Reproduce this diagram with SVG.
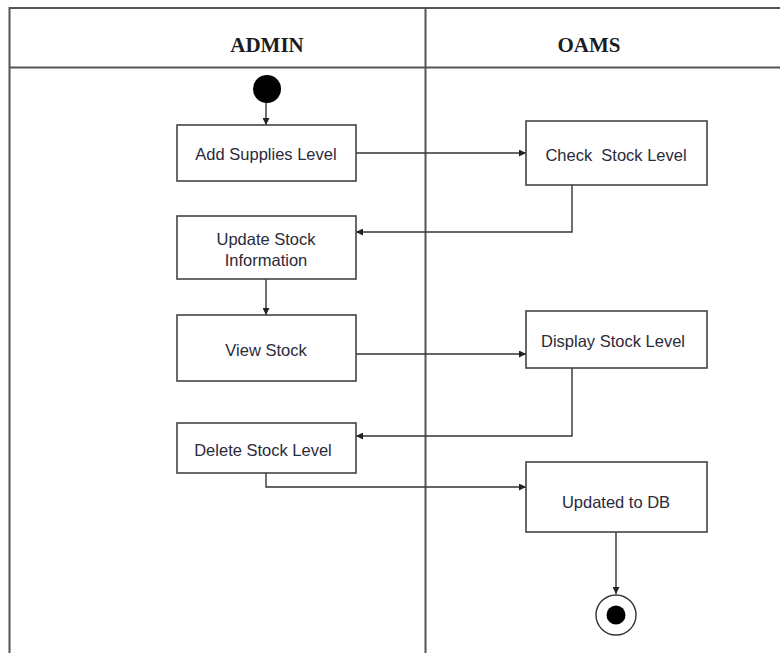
<svg xmlns="http://www.w3.org/2000/svg" width="780" height="653" viewBox="0 0 780 653">
  <style>
    .frame { fill: none; stroke: #555; stroke-width: 2; }
    .lane-title { font-family: "Liberation Serif", "Times New Roman", serif; font-weight: bold; font-size: 21px; fill: #1c1c24; text-anchor: middle; }
    .box { fill: #fff; stroke: #444; stroke-width: 1.6; }
    .label { font-family: "Liberation Sans", Arial, sans-serif; font-size: 16.5px; fill: #2a2a3a; text-anchor: middle; }
    .flow { fill: none; stroke: #333; stroke-width: 1.4; marker-end: url(#arrow); }
  </style>
  <defs>
    <marker id="arrow" viewBox="0 0 10 10" refX="10" refY="5" markerWidth="7" markerHeight="7" markerUnits="userSpaceOnUse" orient="auto">
      <path d="M0,0 L10,5 L0,10 z" fill="#222"/>
    </marker>
  </defs>

  <rect width="780" height="653" fill="#fff"/>

  <!-- swimlane frame -->
  <g id="swimlanes">
    <path class="frame" d="M9.5,653 V8 H780"/>
    <line class="frame" x1="9.5" y1="67.5" x2="780" y2="67.5"/>
    <line class="frame" x1="425.5" y1="8" x2="425.5" y2="653"/>
    <text class="lane-title" x="267" y="52">ADMIN</text>
    <text class="lane-title" x="589" y="52">OAMS</text>
  </g>

  <!-- connectors -->
  <g id="connectors">
    <path class="flow" d="M266,103 V125"/>
    <path class="flow" d="M356,153 H526"/>
    <path class="flow" d="M572,185 V232 H356"/>
    <path class="flow" d="M266,279 V315"/>
    <path class="flow" d="M356,354 H526"/>
    <path class="flow" d="M572,368 V436 H356"/>
    <path class="flow" d="M266,473 V487 H526"/>
    <path class="flow" d="M616,532 V594"/>
  </g>

  <g id="start">
    <circle cx="267" cy="89" r="14" fill="#000"/>
  </g>

  <g id="add-supplies">
    <rect class="box" x="177" y="125" width="179" height="56"/>
    <text class="label" x="266" y="160">Add Supplies Level</text>
  </g>

  <g id="check-stock">
    <rect class="box" x="526" y="121" width="181" height="64"/>
    <text class="label" x="616" y="161" xml:space="preserve">Check  Stock Level</text>
  </g>

  <g id="update-stock">
    <rect class="box" x="177" y="216" width="179" height="63"/>
    <text class="label" x="266" y="245">Update Stock</text>
    <text class="label" x="266" y="266">Information</text>
  </g>

  <g id="view-stock">
    <rect class="box" x="177" y="315" width="179" height="66"/>
    <text class="label" x="266" y="356">View Stock</text>
  </g>

  <g id="display-stock">
    <rect class="box" x="526" y="311" width="181" height="57"/>
    <text class="label" x="613" y="347">Display Stock Level</text>
  </g>

  <g id="delete-stock">
    <rect class="box" x="177" y="423" width="179" height="50"/>
    <text class="label" x="263" y="456">Delete Stock Level</text>
  </g>

  <g id="updated-db">
    <rect class="box" x="526" y="462" width="181" height="70"/>
    <text class="label" x="616" y="508">Updated to DB</text>
  </g>

  <g id="end">
    <circle cx="616" cy="615" r="20" fill="#fff" stroke="#333" stroke-width="1.4"/>
    <circle cx="616" cy="615" r="9.5" fill="#000"/>
  </g>
</svg>
